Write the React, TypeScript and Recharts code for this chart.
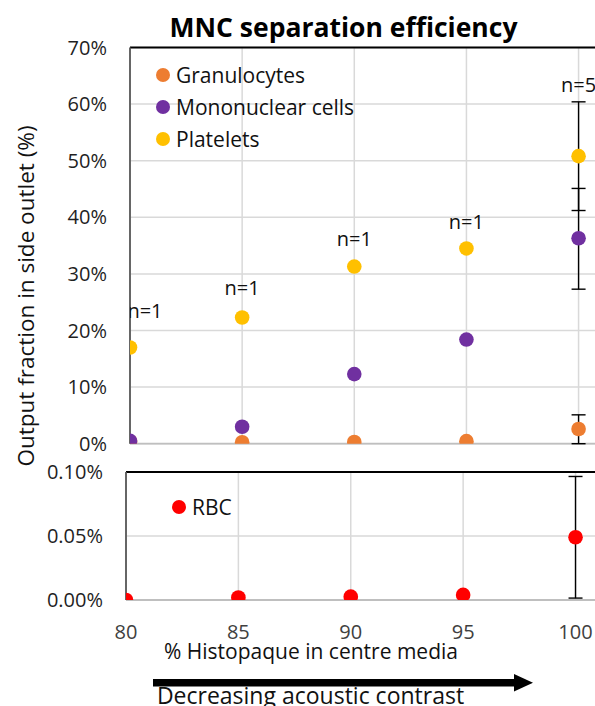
import React from 'react'
import {
  ScatterChart, Scatter, XAxis, YAxis, CartesianGrid,
  ErrorBar, ReferenceLine, Legend
} from 'recharts'

// % Histopaque in centre media
const X_VALUES = [80, 85, 90, 95, 100]

// output fraction in side outlet (%)
const GRANULOCYTES = [0.4, 0.25, 0.3, 0.45, 2.6]
const MONONUCLEAR = [0.5, 3.0, 12.3, 18.4, 36.3]
const PLATELETS = [17.0, 22.3, 31.3, 34.5, 50.8]
const RBC = [0, 0.002, 0.0026, 0.004, 0.049]

// error bars only for the n=5 point: [below, above]
const GRANULOCYTES_ERR = [null, null, null, null, [2.6, 2.5]]
const MONONUCLEAR_ERR = [null, null, null, null, [9.0, 8.8]]
const PLATELETS_ERR = [null, null, null, null, [9.6, 9.6]]
const RBC_ERR = [null, null, null, null, [0.0475, 0.0475]]

const N_LABELS = ['n=1', 'n=1', 'n=1', 'n=1', 'n=5']

const TOP_TICKS = [0, 10, 20, 30, 40, 50, 60, 70]
const BOTTOM_TICKS = [0, 0.05, 0.1]
const X_TICKS = [80, 85, 90, 95, 100]

const COLORS = {
  gran: '#ED7D31',
  mono: '#7030A0',
  plt: '#FFC000',
  rbc: '#FF0000',
}

const FONT = '"Open Sans", "Noto Sans", sans-serif'
const GRID = '#d9d9d9'

// label nudges (px) for the n= annotations above the platelet points
const LABEL_DX = [15, 0, 0, 0, 0]
const LABEL_DY = [-29, -22, -21, -19, -64]

const rows = (vals: number[], errs: any[]) =>
  X_VALUES.map((x, i) => ({ x, y: vals[i], err: errs[i], n: N_LABELS[i] }))

const granData = rows(GRANULOCYTES, GRANULOCYTES_ERR)
const monoData = rows(MONONUCLEAR, MONONUCLEAR_ERR)
const pltData = rows(PLATELETS, PLATELETS_ERR)
const rbcData = rows(RBC, RBC_ERR)

const dot = (color: string) => (p: any) => (
  <circle cx={p.cx} cy={p.cy} r={7.3} fill={color} />
)

function PlateletShape(p: any) {
  const i = X_VALUES.indexOf(p.payload?.x)
  return (
    <g>
      <circle cx={p.cx} cy={p.cy} r={7.3} fill={COLORS.plt} />
      <text x={p.cx + LABEL_DX[i]} y={p.cy + LABEL_DY[i]} textAnchor="middle"
        fontSize={20} fill="#111">{p.payload?.n}</text>
    </g>
  )
}

function LegendList({ payload }: any) {
  if (!payload?.length) return null
  return (
    <div>
      {payload.map((e: any) => (
        <div key={e.value} style={{ display: 'flex', alignItems: 'center', height: 32 }}>
          <svg width={14} height={14}><circle cx={7} cy={7} r={7} fill={e.color} /></svg>
          <span style={{ marginLeft: 6, fontSize: 21, color: '#111', lineHeight: '32px' }}>{e.value}</span>
        </div>
      ))}
    </div>
  )
}

const yTick = { fill: '#1f1f1f', fontSize: 20 }

export default function App() {
  return (
    <div style={{ position: 'absolute', left: 0, top: 0, width: 595, height: 706, overflow: 'hidden', fontFamily: FONT, background: '#fff' }}>
      <div style={{ position: 'absolute', left: 0, top: 0 }}>
        <ScatterChart width={601} height={462} margin={{ top: 47.5, right: 0, bottom: 18.3, left: 0 }}>
          <CartesianGrid stroke={GRID} strokeWidth={1.5} />
          <XAxis type="number" dataKey="x" domain={[80, 101]} ticks={X_TICKS} hide allowDataOverflow />
          <YAxis type="number" dataKey="y" domain={[0, 70]} ticks={TOP_TICKS} allowDataOverflow interval={0}
            width={130} tickLine={false} tickSize={0} tickMargin={23}
            axisLine={{ stroke: '#595959', strokeWidth: 1.8 }}
            tick={yTick} tickFormatter={v => `${v}%`} />
          <ReferenceLine y={0} stroke="#bfbfbf" strokeWidth={1.8} />
          <ReferenceLine y={70} stroke="#000" strokeWidth={2} />
          <Legend layout="vertical" align="center" verticalAlign="middle"
            content={<LegendList />} wrapperStyle={{ top: 59, left: 156, width: 320, height: 'auto' }} />
          <Scatter name="Granulocytes" data={granData} fill={COLORS.gran} shape={dot(COLORS.gran)} isAnimationActive={false}>
            <ErrorBar dataKey="err" direction="y" width={7} stroke="#000" strokeWidth={1.4} />
          </Scatter>
          <Scatter name="Mononuclear cells" data={monoData} fill={COLORS.mono} shape={dot(COLORS.mono)} isAnimationActive={false}>
            <ErrorBar dataKey="err" direction="y" width={7} stroke="#000" strokeWidth={1.4} />
          </Scatter>
          <Scatter name="Platelets" data={pltData} fill={COLORS.plt} shape={PlateletShape} isAnimationActive={false}>
            <ErrorBar dataKey="err" direction="y" width={7} stroke="#000" strokeWidth={1.4} />
          </Scatter>
        </ScatterChart>
      </div>

      <div style={{ position: 'absolute', left: 0, top: 440 }}>
        <ScatterChart width={598} height={266} margin={{ top: 32, right: 0, bottom: 66, left: 0 }}>
          <CartesianGrid stroke={GRID} strokeWidth={1.5} />
          <XAxis type="number" dataKey="x" domain={[80, 101]} ticks={X_TICKS} allowDataOverflow interval={0}
            height={40} axisLine={false} tickLine={false} tickSize={0} tickMargin={25}
            tick={{ fill: '#404040', fontSize: 20 }} />
          <YAxis type="number" dataKey="y" domain={[0, 0.1]} ticks={BOTTOM_TICKS} allowDataOverflow interval={0}
            width={126} tickLine={false} tickSize={0} tickMargin={23}
            axisLine={{ stroke: '#595959', strokeWidth: 1.8 }}
            tick={yTick} tickFormatter={v => `${v.toFixed(2)}%`} />
          <ReferenceLine y={0} stroke="#bfbfbf" strokeWidth={1.8} />
          <ReferenceLine y={0.1} stroke="#000" strokeWidth={2} />
          <Legend layout="vertical" align="center" verticalAlign="middle"
            content={<LegendList />} wrapperStyle={{ top: 50.7, left: 172, width: 120, height: 'auto' }} />
          <Scatter name="RBC" data={rbcData} fill={COLORS.rbc} shape={dot(COLORS.rbc)} isAnimationActive={false}>
            <ErrorBar dataKey="err" direction="y" width={7} stroke="#000" strokeWidth={1.4} />
          </Scatter>
        </ScatterChart>
      </div>

      <svg width={595} height={706} style={{ position: 'absolute', left: 0, top: 0, pointerEvents: 'none' }}>
        <text x={343.5} y={37} textAnchor="middle" fontSize={26.5} fontWeight={700} fill="#000">
          MNC separation efficiency
        </text>
        <text transform="translate(34,296) rotate(-90)" textAnchor="middle" fontSize={22.5} fill="#111">
          Output fraction in side outlet (%)
        </text>
        <text x={311} y={659} textAnchor="middle" fontSize={21} fill="#111">
          % Histopaque in centre media
        </text>
        <rect x={153} y={679} width={363} height={7.5} fill="#000" />
        <polygon points="514,674 533,682.7 514,691.5" fill="#000" />
        <text x={310.5} y={704} textAnchor="middle" fontSize={23} fill="#111">
          Decreasing acoustic contrast
        </text>
      </svg>
    </div>
  )
}
